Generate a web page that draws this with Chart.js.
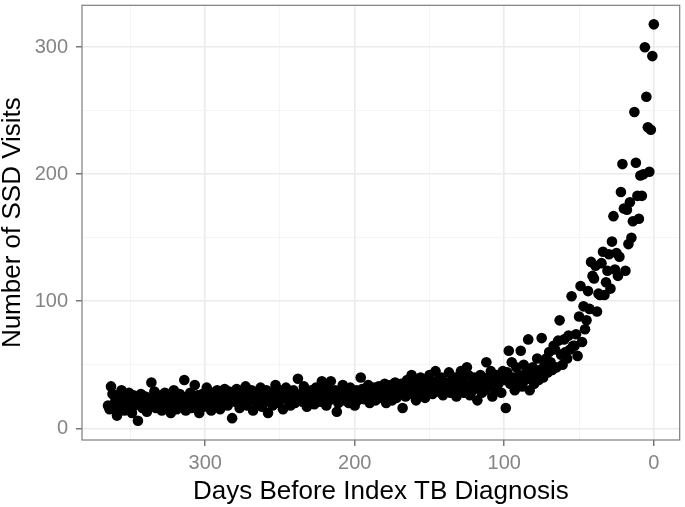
<!DOCTYPE html>
<html>
<head>
<meta charset="utf-8">
<script src="https://cdn.jsdelivr.net/npm/chart.js@4.4.0/dist/chart.umd.min.js"></script>
<style>
html,body{margin:0;padding:0;background:#fff;}
canvas{display:block;}
</style>
</head>
<body>
<canvas id="c" width="685" height="507" style="width:685px;height:507px"></canvas>
<script>
// Days before index TB diagnosis (x) and number of SSD visits (y)
const days = [0,1,2,3,4,5,6,7,8,9,10,11,12,13,14,15,16,17,18,19,20,21,22,23,24,25,26,27,28,29,30,31,32,33,34,35,36,37,38,39,40,41,42,43,44,45,46,47,48,49,50,51,52,53,54,55,56,57,58,59,60,61,62,63,64,65,66,67,68,69,70,71,72,73,74,75,76,77,78,79,80,81,82,83,84,85,86,87,88,89,90,91,92,93,94,95,96,97,98,99,100,101,102,103,104,105,106,107,108,109,110,111,112,113,114,115,116,117,118,119,120,121,122,123,124,125,126,127,128,129,130,131,132,133,134,135,136,137,138,139,140,141,142,143,144,145,146,147,148,149,150,151,152,153,154,155,156,157,158,159,160,161,162,163,164,165,166,167,168,169,170,171,172,173,174,175,176,177,178,179,180,181,182,183,184,185,186,187,188,189,190,191,192,193,194,195,196,197,198,199,200,201,202,203,204,205,206,207,208,209,210,211,212,213,214,215,216,217,218,219,220,221,222,223,224,225,226,227,228,229,230,231,232,233,234,235,236,237,238,239,240,241,242,243,244,245,246,247,248,249,250,251,252,253,254,255,256,257,258,259,260,261,262,263,264,265,266,267,268,269,270,271,272,273,274,275,276,277,278,279,280,281,282,283,284,285,286,287,288,289,290,291,292,293,294,295,296,297,298,299,300,301,302,303,304,305,306,307,308,309,310,311,312,313,314,315,316,317,318,319,320,321,322,323,324,325,326,327,328,329,330,331,332,333,334,335,336,337,338,339,340,341,342,343,344,345,346,347,348,349,350,351,352,353,354,355,356,357,358,359,360,361,362,363,364,365];
const visits = [
318,293,235,202,237,261,300,200,183,199,
165,183,209,249,163,150,178,145,172,124,
173,208,186,135,120,138,125,167,147,110,
137,124,115,105,139,130,105,106,92,128,
118,120,131,94,108,85,78,96,68,112,
88,57,74,65,65,104,62,73,55,60,
70,50,58,85,69,48,62,65,46,52,
60,44,55,51,40,71,46,38,55,42,
35,48,40,30,70,45,38,50,33,61,
42,36,48,30,40,52,35,61,44,16,
38,45,28,40,35,42,30,38,25,45,
33,40,52,30,36,28,42,34,22,38,
40,30,35,26,42,48,33,28,38,45,
30,35,25,40,32,38,28,44,34,30,
36,26,40,33,38,29,45,32,27,37,
42,30,35,24,38,31,40,28,34,22,
36,30,42,27,33,38,25,31,16,35,
28,32,24,36,30,22,34,27,31,20,
35,26,30,24,33,28,22,32,26,30,
20,34,25,29,23,31,40,27,22,30,
18,28,24,32,20,26,30,22,34,25,
28,20,13,30,24,27,37,22,31,18,
26,33,37,21,28,24,32,19,26,30,
22,28,17,25,33,21,27,23,39,26,
20,30,24,18,28,22,32,26,15,24,
30,20,27,34,22,18,28,25,12,30,
21,26,17,32,23,19,28,24,14,30,
22,26,18,33,24,20,28,16,25,31,
21,26,8,23,29,18,25,31,20,27,
15,24,30,19,22,28,14,25,20,32,
23,17,27,21,12,26,19,34,22,16,
28,20,25,14,38,22,18,27,20,15,
24,30,19,12,25,21,17,28,22,14,
26,19,23,16,29,20,36,24,18,13,
25,21,16,27,20,6,23,18,26,12,
22,28,17,24,14,20,30,25,16,10,
22,19,27,33,15,18
];
const xTicks = [0, 50, 100, 150, 200, 250, 300, 350];
const xTickLabels = ['0', '', '100', '', '200', '', '300', ''];
const yTicks = [0, 50, 100, 150, 200, 250, 300];
const yTickLabels = ['0', '', '100', '', '200', '', '300'];
const xTitle = 'Days Before Index TB Diagnosis';
const yTitle = 'Number of SSD Visits';

const points = days.map((d, i) => ({x: d, y: visits[i]}));
const FONT = "'Liberation Sans', Arial, Helvetica, sans-serif";

const borderPlugin = {
  id: 'panelBorder',
  afterDraw(chart) {
    const {ctx, chartArea: a} = chart;
    ctx.save();
    ctx.strokeStyle = '#7d7d7d';
    ctx.lineWidth = 1.2;
    ctx.strokeRect(a.left, a.top, a.right - a.left, a.bottom - a.top);
    ctx.restore();
  }
};

function isMajor(ctx, labels, ticks) {
  const v = ctx.tick ? ctx.tick.value : null;
  const idx = ticks.indexOf(v);
  return idx >= 0 && labels[idx] !== '';
}

new Chart(document.getElementById('c'), {
  type: 'scatter',
  data: {
    datasets: [{
      data: points,
      backgroundColor: '#000',
      borderWidth: 0,
      pointRadius: 5.3,
      pointHoverRadius: 5.3
    }]
  },
  options: {
    responsive: false,
    animation: false,
    events: [],
    layout: {padding: {left: 0, right: 3, top: 2, bottom: 0}},
    plugins: {legend: {display: false}, tooltip: {enabled: false}},
    scales: {
      x: {
        type: 'linear',
        reverse: true,
        min: -17.3,
        max: 382.4,
        afterBuildTicks: s => { s.ticks = xTicks.map(v => ({value: v})); },
        afterFit: s => { s.height = 67; s.paddingLeft = 0; s.paddingRight = 0; },
        grid: {
          color: c => isMajor(c, xTickLabels, xTicks) ? '#ebebeb' : '#f3f3f3',
          lineWidth: c => isMajor(c, xTickLabels, xTicks) ? 1.6 : 0.9,
          drawTicks: true,
          tickLength: 6,
          tickColor: c => isMajor(c, xTickLabels, xTicks) ? '#555' : 'rgba(0,0,0,0)',
          tickWidth: 1.2
        },
        border: {display: false},
        ticks: {
          autoSkip: false,
          maxRotation: 0,
          padding: 5,
          color: '#858585',
          font: {family: FONT, size: 20},
          callback: (v) => { const i = xTicks.indexOf(v); return i >= 0 ? xTickLabels[i] : ''; }
        },
        title: {
          display: true,
          text: xTitle,
          color: '#000',
          font: {family: FONT, size: 26, lineHeight: 1},
          padding: {top: 0, bottom: 2}
        }
      },
      y: {
        type: 'linear',
        min: -9.2,
        max: 333,
        afterBuildTicks: s => { s.ticks = yTicks.map(v => ({value: v})); },
        afterFit: s => { s.width = 82; s.paddingTop = 0; s.paddingBottom = 0; },
        grid: {
          color: c => isMajor(c, yTickLabels, yTicks) ? '#ebebeb' : '#f3f3f3',
          lineWidth: c => isMajor(c, yTickLabels, yTicks) ? 1.6 : 0.9,
          drawTicks: true,
          tickLength: 6,
          tickColor: c => isMajor(c, yTickLabels, yTicks) ? '#555' : 'rgba(0,0,0,0)',
          tickWidth: 1.2
        },
        border: {display: false},
        ticks: {
          autoSkip: false,
          padding: 8,
          color: '#858585',
          font: {family: FONT, size: 20},
          callback: (v) => { const i = yTicks.indexOf(v); return i >= 0 ? yTickLabels[i] : ''; }
        },
        title: {
          display: true,
          text: yTitle,
          color: '#000',
          font: {family: FONT, size: 26, lineHeight: 1},
          padding: {top: 0, bottom: 0}
        }
      }
    }
  },
  plugins: [borderPlugin]
});
</script>
</body>
</html>
